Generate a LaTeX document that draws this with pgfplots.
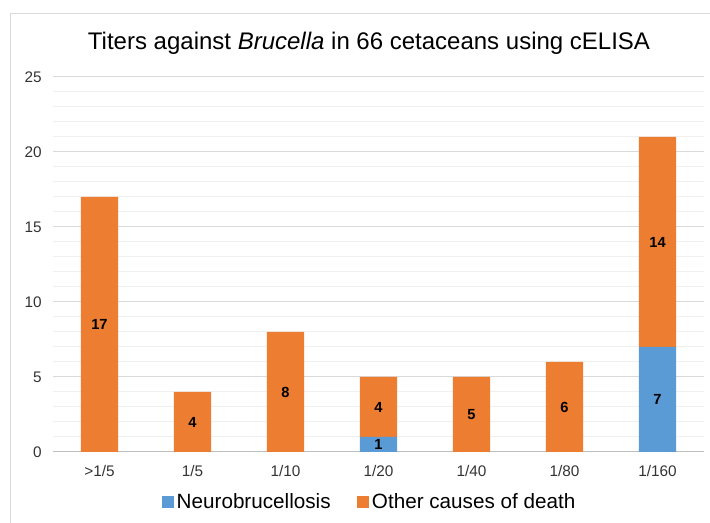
\documentclass[border=0pt]{standalone}
\usepackage{pgfplots}
\pgfplotsset{compat=1.18}
\usepackage{pgfplotstable}
\usepackage{fontspec}
\setmainfont{Liberation Sans}
\definecolor{cblue}{HTML}{5B9BD5}
\definecolor{corange}{HTML}{ED7D31}
\pgfplotstableread{
x n o
0 0 17
1 0 4
2 0 8
3 1 4
4 0 5
5 0 6
6 7 14
}\data
\begin{document}
\begin{tikzpicture}[x=1pt,y=1pt]
\useasboundingbox (-39.75,-53.25) rectangle (492.75,339);
\draw[black!15, line width=0.75pt] (-31.5,-60) -- (-31.5,328.5) -- (500,328.5);
\node[font=\fontsize{18}{20}\selectfont] at (237,306.75) {Titers against \textit{Brucella} in 66 cetaceans using cELISA};
\begin{axis}[
  at={(0,0)}, anchor=south west,
  scale only axis, width=488.25pt, height=281.25pt,
  xmin=-0.5, xmax=6.5, ymin=0, ymax=25,
  ytick={0,5,...,25}, minor y tick num=4,
  ymajorgrids, yminorgrids,
  major grid style={draw=black!15, line width=0.75pt},
  minor grid style={draw=black!6, line width=0.75pt},
  xtick=data,
  xticklabels={{>1/5},{1/5},{1/10},{1/20},{1/40},{1/80},{1/160}},
  tick style={draw=none},
  axis x line*=bottom, axis y line*=left,
  y axis line style={draw=none},
  x axis line style={draw=black!25, line width=0.75pt, -},
  /pgf/number format/assume math mode=true,
  tick label style={font=\fontsize{11.5}{13}\selectfont, text=black!80},
  yticklabel style={xshift=-5pt},
  xticklabel style={yshift=-6.5pt},
  ybar stacked, bar width=0.4,
  point meta=explicit,
  nodes near coords={\pgfmathfloatifflags{\pgfplotspointmeta}{0}{}{\pgfmathprintnumber{\pgfplotspointmeta}}},
  every node near coord/.append style={font=\bfseries\fontsize{11}{13}\selectfont, text=black, anchor=center},
  legend columns=2,
  legend style={at={(0.487,-0.133)}, anchor=center, draw=none, fill=none,
    font=\fontsize{15.5}{17}\selectfont,
    /tikz/every even column/.append style={column sep=18pt}},
  legend image code/.code={\fill[#1] (0pt,-4.5pt) rectangle (9pt,4.5pt);},
]
\addplot[fill=cblue, draw=none] table[x=x, y=n, meta=n] {\data};
\addlegendentry{Neurobrucellosis}
\addplot[fill=corange, draw=none] table[x=x, y=o, meta=o] {\data};
\addlegendentry{Other causes of death}
\end{axis}
\end{tikzpicture}
\end{document}
